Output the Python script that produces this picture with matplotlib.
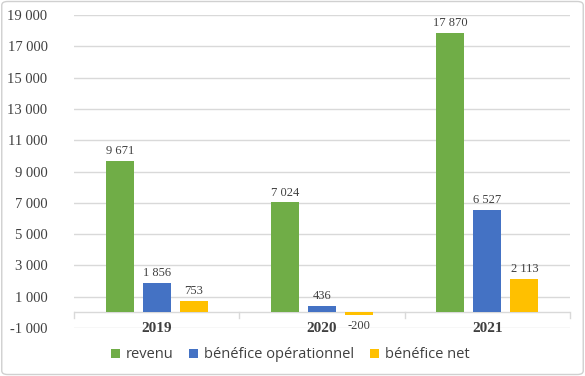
import matplotlib.pyplot as plt
import numpy as np
from matplotlib.patches import FancyBboxPatch

# Data
years = ["2019", "2020", "2021"]
revenu = [9671, 7024, 17870]
benefice_op = [1856, 436, 6527]
benefice_net = [753, -200, 2113]
series_names = ["revenu", "bénéfice opérationnel", "bénéfice net"]
colors = ["#70AD47", "#4472C4", "#FFC000"]

fig = plt.figure(figsize=(5.85, 3.76), dpi=100)
ax = fig.add_axes([74 / 585, 1 - 328 / 376, (570 - 74) / 585, (328 - 15) / 376])

# Border around the chart
fig.patches.append(FancyBboxPatch((0.003, 0.004), 0.994, 0.992, boxstyle="round,pad=0,rounding_size=0.01",
                                  transform=fig.transFigure, fill=False, edgecolor="#D0D0D0", linewidth=1))

x = np.arange(len(years))
width = 0.17
step = 0.224
all_series = [revenu, benefice_op, benefice_net]
for i, (vals, c, name) in enumerate(zip(all_series, colors, series_names)):
    pos = x + (i - 1) * step
    ax.bar(pos, vals, width, color=c, label=name, zorder=3)
    for p, v in zip(pos, vals):
        txt = f"{v:,}".replace(",", " ")
        if v >= 0:
            ax.text(p, v + 250, txt, ha="center", va="bottom", fontsize=9,
                    family="Liberation Serif", color="#404040")
        else:
            ax.text(p, v - 300, txt, ha="center", va="top", fontsize=9,
                    family="Liberation Serif", color="#404040")

ax.set_xlim(-0.5, 2.5)
ax.set_ylim(-1000, 19000)
yt = np.arange(-1000, 19001, 2000)
ax.set_yticks(yt)
ax.set_yticklabels([f"{v:,}".replace(",", " ") for v in yt], family="Liberation Serif",
                   fontsize=10.5, color="#404040")
ax.grid(axis="y", color="#D9D9D9", linewidth=1, zorder=0)
ax.tick_params(axis="y", length=0, pad=19)

for s in ax.spines.values():
    s.set_visible(False)

# zero axis line with boundary ticks
ax.axhline(0, color="#D9D9D9", linewidth=1, zorder=2)
for b in [-0.5, 0.5, 1.5, 2.5]:
    ax.plot([b, b], [0, -350], color="#D9D9D9", linewidth=1, zorder=2, clip_on=False)

ax.set_xticks([])
for xi, yr in zip(x, years):
    ax.text(xi, -600, yr, ha="center", va="top", fontsize=11, fontweight="bold",
            family="Liberation Serif", color="#404040")

ax.legend(loc="center", bbox_to_anchor=(290 / 585, 1 - 355 / 376), bbox_transform=fig.transFigure,
          ncol=3, frameon=False, handlelength=0.6, handleheight=0.6, handletextpad=0.4,
          columnspacing=1.1, prop={"family": "Open Sans", "size": 10.5}, labelcolor="#404040")

fig.savefig("out.png", dpi=100)
